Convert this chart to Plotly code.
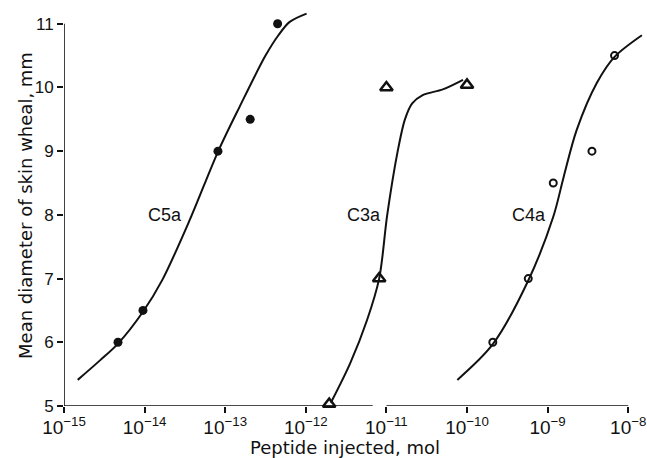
import plotly.graph_objects as go

# ---- data (log10 of mol, mean diameter mm) ----
c5a_pts_logx = [-14.33, -14.02, -13.09, -12.69, -12.35]
c5a_pts_y = [6.0, 6.5, 9.0, 9.5, 11.0]
c5a_curve_logx = [-14.83, -14.55, -14.33, -14.02, -13.78, -13.44, -13.09, -12.82, -12.5, -12.34, -12.2, -11.99]
c5a_curve_y = [5.41, 5.72, 5.98, 6.48, 6.98, 7.92, 8.99, 9.70, 10.5, 10.82, 11.03, 11.16]

c3a_pts_logx = [-11.71, -11.09, -11.0, -10.0]
c3a_pts_y = [5.03, 7.0, 10.0, 10.04]
c3a_curve_logx = [-11.69, -11.45, -11.24, -11.09, -10.99, -10.86, -10.77, -10.68, -10.55, -10.3, -10.05]
c3a_curve_y = [5.05, 5.67, 6.35, 7.0, 8.0, 9.0, 9.5, 9.75, 9.88, 9.97, 10.12]

c4a_pts_logx = [-9.68, -9.24, -8.93, -8.45, -8.17]
c4a_pts_y = [6.0, 7.0, 8.5, 9.0, 10.5]
c4a_curve_logx = [-10.12, -9.68, -9.24, -8.93, -8.80, -8.64, -8.39, -8.17, -7.83]
c4a_curve_y = [5.41, 5.97, 6.97, 7.97, 8.6, 9.33, 10.07, 10.48, 10.82]

labels = ["C5a", "C3a", "C4a"]
label_logx = [-13.75, -11.28, -9.225]
label_y = [8.0, 8.0, 8.0]

x_exps = [-15, -14, -13, -12, -11, -10, -9, -8]
y_ticks = [5, 6, 7, 8, 9, 10, 11]
break_left_exp = -11.17   # end of first x-axis segment
break_right_exp = -11.0   # start of second x-axis segment

x_title = "Peptide injected, mol"
y_title = "Mean diameter of skin wheal, mm"

FONT = "Liberation Sans, Arial, Helvetica, sans-serif"
WIDE = "DejaVu Sans, Verdana, sans-serif"
BLACK = "#111111"

def p(v):
    return [10 ** e for e in v]

fig = go.Figure()
for cx, cy in [(c5a_curve_logx, c5a_curve_y), (c3a_curve_logx, c3a_curve_y), (c4a_curve_logx, c4a_curve_y)]:
    fig.add_trace(go.Scatter(x=p(cx), y=cy, mode="lines",
                             line=dict(color=BLACK, width=2, shape="spline", smoothing=0.9),
                             showlegend=False, hoverinfo="skip"))

fig.add_trace(go.Scatter(x=p(c5a_pts_logx), y=c5a_pts_y, mode="markers",
                         marker=dict(symbol="circle", size=9, color=BLACK),
                         cliponaxis=False, showlegend=False))
fig.add_trace(go.Scatter(x=p(c3a_pts_logx), y=c3a_pts_y, mode="markers",
                         marker=dict(symbol="triangle-up-open", size=11, color=BLACK,
                                     line=dict(width=2.5, color=BLACK)),
                         cliponaxis=False, showlegend=False))
fig.add_trace(go.Scatter(x=p(c4a_pts_logx), y=c4a_pts_y, mode="markers",
                         marker=dict(symbol="circle-open", size=7, color=BLACK,
                                     line=dict(width=2, color=BLACK)),
                         cliponaxis=False, showlegend=False))

for t, lx, ly in zip(labels, label_logx, label_y):
    fig.add_annotation(x=lx, y=ly, text=t, showarrow=False, xref="x", yref="y",
                       font=dict(family=FONT, size=18, color=BLACK))

# axis titles
fig.add_annotation(x=0.482, y=-0.102, xref="paper", yref="paper", text=x_title,
                   showarrow=False, xanchor="center", yanchor="middle",
                   font=dict(family=WIDE, size=18, color=BLACK))
fig.add_annotation(x=-0.067, y=0.5, xref="paper", yref="paper", text=y_title,
                   showarrow=False, xanchor="center", yanchor="middle", textangle=-90,
                   font=dict(family=WIDE, size=18, color=BLACK))

# axis lines (with break on x axis)
fig.add_shape(type="line", xref="x", yref="y", x0=10 ** x_exps[0], x1=10 ** break_left_exp,
              y0=y_ticks[0], y1=y_ticks[0], line=dict(color=BLACK, width=1.6))
fig.add_shape(type="line", xref="x", yref="y", x0=10 ** break_right_exp, x1=10 ** x_exps[-1],
              y0=y_ticks[0], y1=y_ticks[0], line=dict(color=BLACK, width=1.6))
fig.add_shape(type="line", xref="x", yref="y", x0=10 ** x_exps[0], x1=10 ** x_exps[0],
              y0=y_ticks[0], y1=y_ticks[-1], line=dict(color=BLACK, width=1.6))

fig.update_layout(
    width=647, height=458,
    margin=dict(l=64, r=0, t=4, b=52),
    paper_bgcolor="white", plot_bgcolor="white",
    font=dict(family=FONT, color=BLACK),
    xaxis=dict(type="log", range=[-15, -7.767], showgrid=False, zeroline=False, showline=False,
               tickvals=[10 ** e for e in x_exps],
               ticktext=["10<sup>\u2212%d</sup>" % (-e) for e in x_exps],
               ticks="outside", ticklen=6, tickwidth=1.5, tickcolor=BLACK,
               ticklabelstandoff=-2,
               tickfont=dict(family=FONT, size=19, color=BLACK)),
    yaxis=dict(range=[5, 11.31], showgrid=False, zeroline=False, showline=False,
               tickvals=y_ticks, ticktext=[str(v) for v in y_ticks],
               ticks="outside", ticklen=6, tickwidth=1.5, tickcolor=BLACK,
               tickfont=dict(family=FONT, size=17, color=BLACK)),
)

fig.write_html("out.html", config={"displayModeBar": False},
               post_script="document.body.style.margin='0';document.body.style.overflow='hidden';")
